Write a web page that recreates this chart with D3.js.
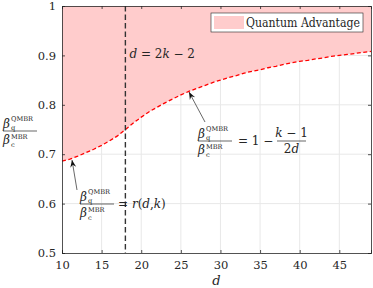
<!DOCTYPE html>
<html>
<head>
<meta charset="utf-8">
<script src="https://cdn.jsdelivr.net/npm/d3@7"></script>
<style>
  body { margin: 0; background: #fff; }
  svg text { font-family: "DejaVu Serif", serif; fill: #262626; }
  .it { font-style: italic; }
</style>
</head>
<body>
<svg id="chart" width="373" height="288"></svg>
<script>
// ratio curve, d = 10..49
var dVals = [10, 11, 12, 13, 14, 15, 16, 17, 18, 19, 20, 21, 22, 23, 24, 25, 26, 27, 28, 29,
             30, 31, 32, 33, 34, 35, 36, 37, 38, 39, 40, 41, 42, 43, 44, 45, 46, 47, 48, 49];
var ratio = [0.686, 0.690, 0.696, 0.703, 0.710, 0.718, 0.727, 0.737, 0.750, 0.763,
             0.775, 0.786, 0.795, 0.804, 0.812, 0.820, 0.827, 0.833, 0.839, 0.845,
             0.850, 0.855, 0.859, 0.864, 0.868, 0.871, 0.875, 0.878, 0.882, 0.885,
             0.888, 0.890, 0.893, 0.895, 0.898, 0.900, 0.902, 0.904, 0.906, 0.908];
var xTicks = [10, 15, 20, 25, 30, 35, 40, 45];
var yTicks = [0.5, 0.6, 0.7, 0.8, 0.9, 1];
var dLine = 18;   // d = 2k - 2

var svg = d3.select("#chart"),
    margin = {top: 6, right: 2, bottom: 35, left: 62},
    width = +svg.attr("width") - margin.left - margin.right,
    height = +svg.attr("height") - margin.top - margin.bottom;

var x = d3.scaleLinear().domain([10, 49]).range([0, width]),
    y = d3.scaleLinear().domain([0.5, 1]).range([height, 0]);

var g = svg.append("g")
    .attr("transform", "translate(" + margin.left + "," + margin.top + ")");

var pts = dVals.map(function (d, i) { return {d: d, r: ratio[i]}; });

// grid
g.append("g").selectAll("line").data(xTicks.slice(1)).enter().append("line")
    .attr("x1", function (d) { return x(d); }).attr("x2", function (d) { return x(d); })
    .attr("y1", 0).attr("y2", height)
    .attr("stroke", "#e8e8e8").attr("stroke-width", 1);
g.append("g").selectAll("line").data(yTicks.slice(1, -1)).enter().append("line")
    .attr("y1", function (d) { return y(d); }).attr("y2", function (d) { return y(d); })
    .attr("x1", 0).attr("x2", width)
    .attr("stroke", "#e8e8e8").attr("stroke-width", 1);

// quantum advantage region
var area = d3.area()
    .x(function (p) { return x(p.d); })
    .y0(function () { return y(1); })
    .y1(function (p) { return y(p.r); });
g.append("path").datum(pts).attr("d", area).attr("fill", "#ffcccc");

// curve
var line = d3.line().x(function (p) { return x(p.d); }).y(function (p) { return y(p.r); });
g.append("path").datum(pts).attr("d", line)
    .attr("fill", "none").attr("stroke", "#ff0000").attr("stroke-width", 1.3)
    .attr("stroke-dasharray", "4,2.5");

// d = 2k-2
g.append("line")
    .attr("x1", x(dLine)).attr("x2", x(dLine)).attr("y1", 0).attr("y2", height)
    .attr("stroke", "#333").attr("stroke-width", 1.4).attr("stroke-dasharray", "5.5,3");

// axes
g.append("g").attr("transform", "translate(0," + height + ")")
    .call(d3.axisBottom(x).tickValues(xTicks).tickSize(-3).tickPadding(8));
g.append("g")
    .call(d3.axisLeft(y).tickValues(yTicks).tickSize(-3).tickPadding(6)
        .tickFormat(function (d) { return d === 1 ? "1" : d3.format(".1f")(d); }));
g.append("g").call(d3.axisTop(x).tickValues(xTicks).tickSize(-3).tickFormat(""));
g.append("g").attr("transform", "translate(" + width + ",0)")
    .call(d3.axisRight(y).tickValues(yTicks).tickSize(-3).tickFormat(""));
g.selectAll(".domain").attr("stroke", "#262626").attr("stroke-width", 0.8);
g.selectAll(".tick line").attr("stroke", "#262626").attr("stroke-width", 0.8);
g.selectAll(".tick text").attr("font-size", 11.5).style("font-family", "DejaVu Serif");

// beta fraction helper
function betaFrac(px, py, fs) {
    var f = svg.append("g").attr("transform", "translate(" + px + "," + py + ")");
    var s = fs * 0.55;
    f.append("text").attr("class", "it").attr("x", 0).attr("y", -3).attr("font-size", fs).text("β");
    f.append("text").attr("x", 8).attr("y", -10).attr("font-size", s).text("QMBR");
    f.append("text").attr("x", 8).attr("y", -1.5).attr("font-size", s).text("q");
    f.append("line").attr("x1", 0).attr("x2", 34).attr("y1", 0).attr("y2", 0)
        .attr("stroke", "#262626").attr("stroke-width", 0.7);
    f.append("text").attr("class", "it").attr("x", 0).attr("y", 13).attr("font-size", fs).text("β");
    f.append("text").attr("x", 8).attr("y", 7.5).attr("font-size", s).text("MBR");
    f.append("text").attr("x", 8).attr("y", 16).attr("font-size", s).text("c");
    return f;
}

// y label
betaFrac(3, 131, 12);

// x label
svg.append("text").attr("class", "it").attr("x", margin.left + x(29.5)).attr("y", 285)
    .attr("text-anchor", "middle").attr("font-size", 13).text("d");

// d = 2k - 2 label
var lbl = svg.append("text").attr("x", margin.left + x(dLine) + 4).attr("y", 58).attr("font-size", 12);
lbl.append("tspan").attr("class", "it").text("d");
lbl.append("tspan").text(" = 2");
lbl.append("tspan").attr("class", "it").text("k");
lbl.append("tspan").text(" − 2");

// annotation arrows
function arrow(x1, y1, x2, y2) {
    svg.append("line").attr("x1", x1).attr("y1", y1).attr("x2", x2).attr("y2", y2)
        .attr("stroke", "#262626").attr("stroke-width", 0.7);
    var a = Math.atan2(y2 - y1, x2 - x1), L = 8, w = 0.38;
    var p = [[x2, y2],
             [x2 - L * Math.cos(a - w), y2 - L * Math.sin(a - w)],
             [x2 - L * 0.6 * Math.cos(a), y2 - L * 0.6 * Math.sin(a)],
             [x2 - L * Math.cos(a + w), y2 - L * Math.sin(a + w)]];
    svg.append("path").attr("d", "M" + p.join("L") + "Z").attr("fill", "#111");
}
arrow(77, 190, 72, 160);
arrow(205, 122, 189, 92);

// r(d,k) annotation
betaFrac(80, 204, 12);
var t1 = svg.append("text").attr("x", 118).attr("y", 208).attr("font-size", 12);
t1.append("tspan").text("= ");
t1.append("tspan").attr("class", "it").text("r");
t1.append("tspan").text("(");
t1.append("tspan").attr("class", "it").text("d");
t1.append("tspan").text(",");
t1.append("tspan").attr("class", "it").text("k");
t1.append("tspan").text(")");

// 1 - (k-1)/(2d) annotation
betaFrac(198, 141, 12);
svg.append("text").attr("x", 238).attr("y", 145).attr("font-size", 12).text("= 1 −");
svg.append("line").attr("x1", 277).attr("x2", 306).attr("y1", 141).attr("y2", 141)
    .attr("stroke", "#262626").attr("stroke-width", 0.7);
var t2 = svg.append("text").attr("x", 291.5).attr("y", 137).attr("font-size", 12).attr("text-anchor", "middle");
t2.append("tspan").attr("class", "it").text("k");
t2.append("tspan").text(" − 1");
var t3 = svg.append("text").attr("x", 291.5).attr("y", 153).attr("font-size", 12).attr("text-anchor", "middle");
t3.append("tspan").text("2");
t3.append("tspan").attr("class", "it").text("d");

// legend
var lg = svg.append("g").attr("transform", "translate(211,13)");
lg.append("rect").attr("width", 152).attr("height", 19).attr("fill", "#fff").attr("stroke", "#262626").attr("stroke-width", 0.6);
lg.append("rect").attr("x", 3).attr("y", 3).attr("width", 30).attr("height", 13).attr("fill", "#ffcccc");
lg.append("text").attr("x", 35).attr("y", 14).attr("font-size", 12)
    .attr("textLength", 114).attr("lengthAdjust", "spacingAndGlyphs").text("Quantum Advantage");
</script>
</body>
</html>
